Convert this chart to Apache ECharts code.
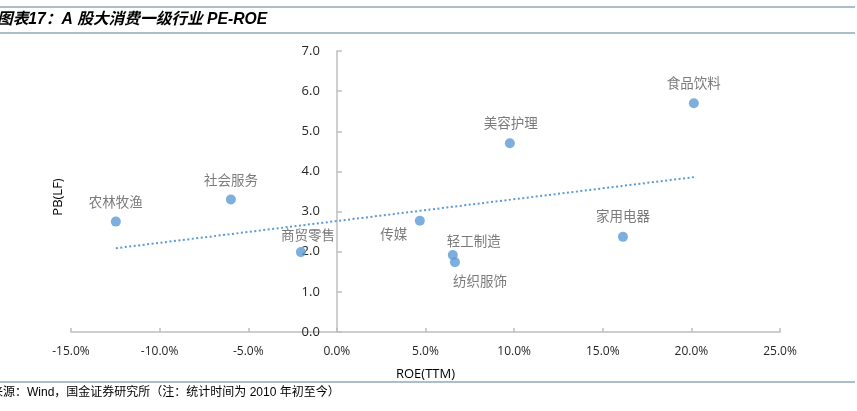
<!DOCTYPE html>
<html>
<head>
<meta charset="utf-8">
<script src="https://cdn.jsdelivr.net/npm/echarts@6/dist/echarts.min.js"></script>
<style>
html,body{margin:0;padding:0;background:#fff;}
#c{width:857px;height:411px;}
</style>
</head>
<body>
<div id="c"></div>
<script>
// Data
const industries = ['农林牧渔','社会服务','商贸零售','传媒','轻工制造','纺织服饰','美容护理','家用电器','食品饮料'];
const roeValues = [-12.47, -5.98, -2.03, 4.68, 6.54, 6.66, 9.76, 16.14, 20.14];   // ROE(TTM) %
const pbValues  = [2.75, 3.30, 1.99, 2.77, 1.92, 1.74, 4.70, 2.37, 5.70];          // PB(LF)
const xTicks = [-15, 25, 5];   // min, max, interval
const yTicks = [0, 7, 1];

// label placement (style only)
const labelOffsets = {
  '农林牧渔':[0,-20], '社会服务':[0,-20], '商贸零售':[7,-17], '传媒':[-26,13],
  '轻工制造':[21,-14], '纺织服饰':[25,19], '美容护理':[1,-20], '家用电器':[0,-21], '食品饮料':[0,-20]
};

// least-squares trend line from the data
const n = roeValues.length;
const mx = roeValues.reduce((a,b)=>a+b,0)/n;
const my = pbValues.reduce((a,b)=>a+b,0)/n;
let sxy=0,sxx=0;
for(let i=0;i<n;i++){sxy+=(roeValues[i]-mx)*(pbValues[i]-my);sxx+=(roeValues[i]-mx)**2;}
const slope=sxy/sxx, icpt=my-slope*mx;
const xmin=Math.min(...roeValues), xmax=Math.max(...roeValues);
const trend=[[xmin,icpt+slope*xmin],[xmax,icpt+slope*xmax]];

const pts = industries.map((name,i)=>({
  name, value:[roeValues[i], pbValues[i]],
  label:{show:true, formatter:name, position:'inside', offset:labelOffsets[name]}
}));

const chart = echarts.init(document.getElementById('c'));
const axisFont = '"Open Sans", "Liberation Sans", sans-serif';
chart.setOption({
  animation:false,
  backgroundColor:'#fff',
  grid:{left:71, right:77, top:51, bottom:79, containLabel:false},
  title:[
    {text:'图表17：A 股大消费一级行业 PE-ROE', left:-3, top:12, padding:0,
     textStyle:{fontSize:15.7, fontWeight:'bold', fontStyle:'italic', color:'#000',
       fontFamily:'"Liberation Sans", "Noto Sans CJK SC", sans-serif'}},
    {text:'来源：Wind，国金证券研究所（注：统计时间为 2010 年初至今）', left:-9, top:387, padding:0,
     textStyle:{fontSize:12, fontWeight:'normal', color:'#000',
       fontFamily:'"Liberation Sans", "Noto Sans CJK SC", sans-serif'}}
  ],
  graphic:[
    {type:'line', shape:{x1:0,y1:7,x2:855,y2:7}, style:{stroke:'#90a9b5', lineWidth:1.5}},
    {type:'line', shape:{x1:0,y1:33,x2:855,y2:33}, style:{stroke:'#90a9b5', lineWidth:1.5}},
    {type:'line', shape:{x1:0,y1:382,x2:855,y2:382}, style:{stroke:'#90a9b5', lineWidth:1.5}},
    {type:'text', x:58, y:197, rotation:Math.PI/2, style:{text:'PB(LF)', fill:'#000',
      font:'13px "Open Sans", sans-serif', align:'center', verticalAlign:'middle'}}
  ],
  xAxis:{
    type:'value', min:xTicks[0], max:xTicks[1], interval:xTicks[2],
    name:'ROE(TTM)', nameLocation:'middle', nameGap:36,
    nameTextStyle:{fontSize:13, color:'#000', fontFamily:axisFont},
    splitLine:{show:false},
    axisLine:{onZero:false, lineStyle:{color:'#bfbfbf', width:1.5}},
    axisTick:{inside:true, length:4, lineStyle:{color:'#bfbfbf', width:1.5}},
    axisLabel:{margin:14, fontSize:12, color:'#262626', fontFamily:axisFont,
      formatter:v=>v.toFixed(1)+'%'}
  },
  yAxis:{
    type:'value', min:yTicks[0], max:yTicks[1], interval:yTicks[2],
    splitLine:{show:false},
    axisLine:{show:true, onZero:true, lineStyle:{color:'#bfbfbf', width:1.5}},
    axisTick:{show:true, inside:true, length:5, lineStyle:{color:'#bfbfbf', width:1.5}},
    axisLabel:{margin:17, fontSize:13, color:'#262626', fontFamily:axisFont,
      formatter:v=>v.toFixed(1)}
  },
  series:[
    {type:'line', data:trend, symbol:'none', silent:true, z:1,
     lineStyle:{color:'#5b9bd5', width:2, type:[2,2.5]}},
    {type:'scatter', data:pts, symbolSize:10, z:3,
     itemStyle:{color:'#5b9bd5'},
     label:{fontSize:13.5, color:'#595959', fontFamily:'"Noto Sans CJK SC", sans-serif'}}
  ]
});
// put the y axis on x = 0, using the x scale
const zeroPx = chart.convertToPixel({xAxisIndex:0}, 0);
const leftPx = chart.convertToPixel({xAxisIndex:0}, xTicks[0]);
chart.setOption({yAxis:{offset: -(zeroPx - leftPx)}});
</script>
</body>
</html>
